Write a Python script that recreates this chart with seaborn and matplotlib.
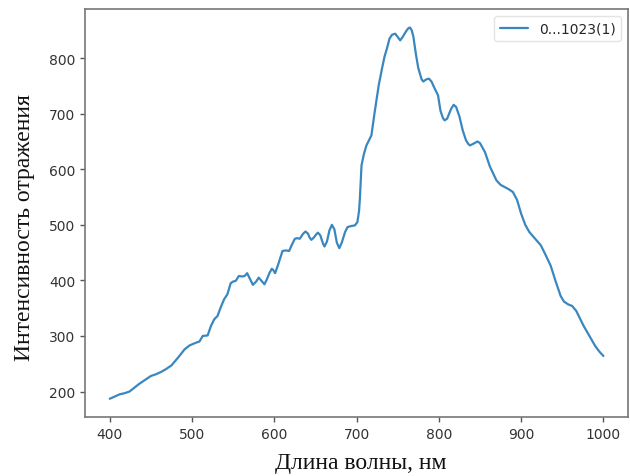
import matplotlib
matplotlib.use("Agg")
import matplotlib.pyplot as plt
import seaborn as sns
import pandas as pd

# Reflection spectrum: wavelength (nm) and reflected intensity (counts)
wavelength = [400, 406, 412, 418, 424, 430, 436, 443, 450, 456, 462, 468, 475, 483,
              491, 497, 505, 509, 513, 519, 523, 527, 531, 535, 539, 543, 547, 550,
              553, 557, 561, 564, 567, 570, 574, 578, 581, 584, 588, 591, 594, 597,
              599, 601, 605, 610, 614, 618, 621, 625, 628, 631, 635, 638, 641, 643,
              645, 648, 651, 653, 656, 659, 661, 664, 667, 670, 673, 676, 679, 682,
              686, 689, 694, 698, 701, 703, 704, 706, 709, 712, 715, 718, 722, 727,
              731, 734, 737, 740, 743, 747, 750, 753, 756, 760, 763, 765, 767, 769,
              772, 775, 779, 781, 785, 788, 791, 795, 799, 802, 805, 807, 810, 815,
              818, 821, 825, 829, 833, 836, 838, 842, 847, 850, 856, 862, 870, 875,
              880, 885, 890, 895, 900, 905, 910, 917, 924, 930, 936, 942, 948, 952,
              957, 962, 967, 972, 976, 983, 990, 995, 1000]
intensity = [187, 191, 195, 197, 200, 207, 214, 221, 228, 231, 235, 240, 247, 261,
             276, 283, 288, 290, 300, 301, 318, 330, 336, 352, 366, 375, 395, 398,
             399, 408, 407, 408, 413, 404, 392, 398, 405, 400, 393, 402, 413, 421,
             418, 413, 430, 453, 454, 453, 463, 475, 476, 475, 484, 488, 484, 477,
             473, 477, 483, 486, 481, 467, 461, 470, 490, 500, 492, 468, 458, 468,
             487, 496, 498, 499, 505, 525, 547, 607, 628, 643, 652, 661, 703, 752,
             782, 803, 818, 835, 842, 844, 838, 832, 838, 848, 854, 855, 850, 839,
             808, 782, 762, 758, 762, 763, 758, 745, 733, 705, 692, 688, 691, 709,
             716, 712, 695, 670, 652, 645, 643, 646, 650, 647, 631, 605, 580, 572,
             568, 564, 559, 545, 520, 500, 487, 475, 463, 445, 426, 398, 372, 362,
             357, 354, 345, 330, 318, 300, 282, 272, 264]
series_name = "0...1023(1)"
x_label = "Длина волны, нм"
y_label = "Интенсивность отражения"

df = pd.DataFrame({"wavelength": wavelength, "intensity": intensity,
                   "series": series_name})

sns.set_style("ticks")
plt.rcParams["font.family"] = ["DejaVu Sans"]

fig = plt.figure(figsize=(6.3, 4.77), dpi=100)
ax = fig.add_axes([0.135, 0.123, 0.862, 0.856])

sns.lineplot(data=df, x="wavelength", y="intensity", hue="series",
             palette=["#3a87c0"], linewidth=1.6, ax=ax)
ax.lines[0].set_solid_joinstyle("round")

for side in ["top", "right", "left", "bottom"]:
    ax.spines[side].set_visible(True)
    ax.spines[side].set_color("#777777")
    ax.spines[side].set_linewidth(1.2)

ax.set_xticks([400, 500, 600, 700, 800, 900, 1000])
ax.set_yticks([200, 300, 400, 500, 600, 700, 800])
ax.tick_params(axis="both", labelsize=10, colors="#555555", labelcolor="#333333",
               length=3.5, width=1)
ax.margins(x=0.05, y=0.05)

ax.set_xlabel(x_label, fontsize=17, family="Liberation Serif", color="#111111")
ax.set_ylabel(y_label, fontsize=17, family="Liberation Serif", color="#111111")
ax.xaxis.set_label_coords(0.507, -0.085)
ax.yaxis.set_label_coords(-0.092, 0.466)

leg = ax.legend(loc="upper right", title=None, fontsize=10, frameon=True)
leg.get_frame().set_edgecolor("#dddddd")

fig.savefig("out.png", dpi=100)
